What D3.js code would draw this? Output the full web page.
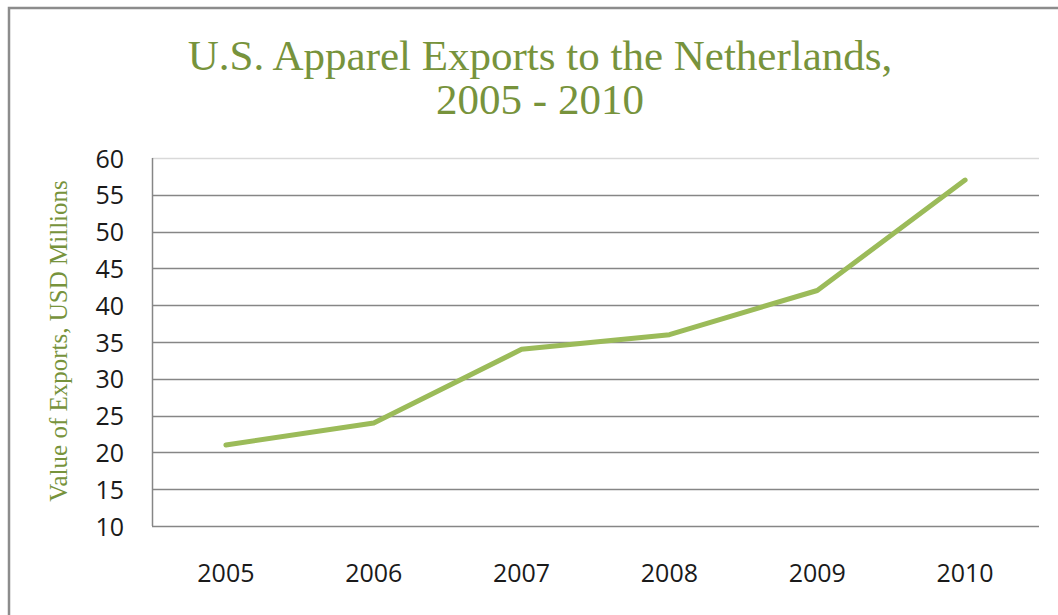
<!DOCTYPE html>
<html><head><meta charset="utf-8">
<script src="https://cdn.jsdelivr.net/npm/d3@7"></script>
<style>body{margin:0;background:#fff}svg{display:block}</style>
</head><body><svg id="c" width="1058" height="615"></svg>
<script>
const years = ["2005","2006","2007","2008","2009","2010"];
const exportsUSD = [21, 24, 34, 36, 42, 57];
const yTicks = [10,15,20,25,30,35,40,45,50,55,60];
const titleLines = ["U.S. Apparel Exports to the Netherlands,", "2005 - 2010"];
const yTitle = "Value of Exports, USD Millions";

const svg = d3.select("#c");
const W = 1058, H = 615;
const m = {left:152, right:1039, top:158, bottom:526};
const green = "#77933C";

svg.append("rect").attr("width",W).attr("height",H).attr("fill","#fff");
// outer border (top & left visible)
svg.append("path").attr("d",`M9,${H} V8 H${W}`).attr("fill","none").attr("stroke","#8c8c8c").attr("stroke-width",2.5);

const x = d3.scaleBand().domain(years).range([m.left,m.right]);
const y = d3.scaleLinear().domain([10,60]).range([m.bottom,m.top]);

// gridlines
svg.append("g").selectAll("line").data(yTicks).join("line")
  .attr("x1",m.left).attr("x2",m.right)
  .attr("y1",d=>Math.round(y(d))+0.5).attr("y2",d=>Math.round(y(d))+0.5)
  .attr("stroke",d=>d===60?"#d9d9d9":"#868686").attr("stroke-width",1.5);

// y axis line
svg.append("line").attr("x1",m.left+0.5).attr("x2",m.left+0.5).attr("y1",m.top).attr("y2",m.bottom)
  .attr("stroke","#868686").attr("stroke-width",1.5);

const tickFont = "'Open Sans', Lato, sans-serif";
// y tick labels
const yAxis = d3.axisLeft(y).tickValues(yTicks).tickSize(0).tickPadding(0);
const gy = svg.append("g").attr("transform",`translate(${m.left-28},0)`).call(yAxis);
gy.select(".domain").remove();
gy.selectAll("text").attr("font-family",tickFont).attr("font-size",25).attr("fill","#1a1a1a").attr("dy","0.36em");

// x tick labels
const xAxis = d3.axisBottom(x).tickSize(0).tickPadding(0);
const gx = svg.append("g").attr("transform",`translate(0,${m.bottom+47})`).call(xAxis);
gx.select(".domain").remove();
gx.selectAll("text").attr("font-family",tickFont).attr("font-size",25).attr("fill","#1a1a1a").attr("dy","0.36em");

// line
const line = d3.line().x((d,i)=>x(years[i])+x.bandwidth()/2).y(d=>y(d));
svg.append("path").datum(exportsUSD).attr("d",line).attr("fill","none")
  .attr("stroke","#9BBB59").attr("stroke-width",5).attr("stroke-linecap","round").attr("stroke-linejoin","round");

// title
svg.append("g").selectAll("text").data(titleLines).join("text")
  .attr("text-anchor","middle").attr("fill",green)
  .attr("font-family","'Liberation Serif', 'DejaVu Serif', serif").attr("font-size",43)
  .attr("x",540).attr("y",(d,i)=>70+i*44).text(d=>d);

// y title
svg.append("text").attr("transform","translate(67,341) rotate(-90)").attr("text-anchor","middle")
  .attr("fill",green).attr("font-family","'Liberation Serif', 'DejaVu Serif', serif").attr("font-size",25).text(yTitle);
</script></body></html>
